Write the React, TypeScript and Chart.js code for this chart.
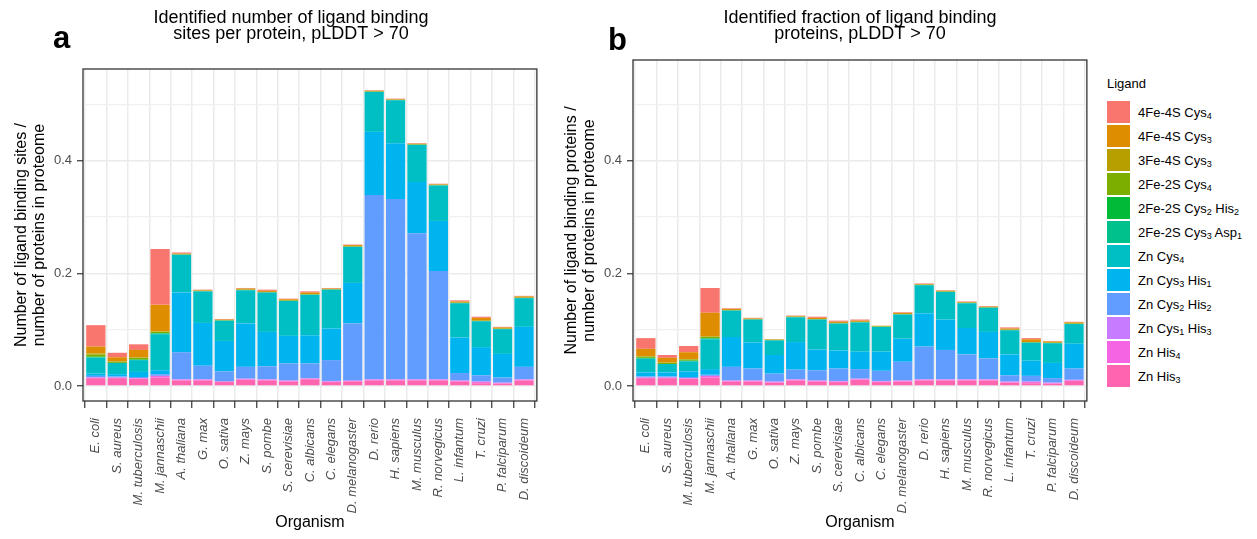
import React, { useEffect, useRef } from "react";
import { Chart, registerables } from "chart.js";

Chart.register(...registerables);

const FONT = '"Liberation Sans", Arial, Helvetica, sans-serif';

const organisms = [
  "E. coli", "S. aureus", "M. tuberculosis", "M. jannaschii", "A. thaliana", "G. max",
  "O. sativa", "Z. mays", "S. pombe", "S. cerevisiae", "C. albicans", "C. elegans",
  "D. melanogaster", "D. rerio", "H. sapiens", "M. musculus", "R. norvegicus",
  "L. infantum", "T. cruzi", "P. falciparum", "D. discoideum",
];

// Legend order (top to bottom); "_n" marks a subscript
const ligandLabels = [
  "4Fe-4S Cys_4", "4Fe-4S Cys_3", "3Fe-4S Cys_3", "2Fe-2S Cys_4", "2Fe-2S Cys_2 His_2",
  "2Fe-2S Cys_3 Asp_1", "Zn Cys_4", "Zn Cys_3 His_1", "Zn Cys_2 His_2", "Zn Cys_1 His_3",
  "Zn His_4", "Zn His_3",
];
const ligandColors = [
  "#F8766D", "#DE8C00", "#B79F00", "#7CAE00", "#00BA38", "#00C08B",
  "#00BFC4", "#00B4F0", "#619CFF", "#C77CFF", "#F564E3", "#FF64B0",
];

// Panel a: ligand binding sites per protein
const sitesFe4S4Cys4 = [0.038, 0.008, 0.010, 0.099, 0.002, 0.001, 0.001, 0.001, 0.002, 0.001, 0.002, 0.001, 0.001, 0.001, 0.001, 0.001, 0.001, 0.002, 0.002, 0.001, 0.001];
const sitesFe4S4Cys3 = [0.012, 0.007, 0.013, 0.047, 0.001, 0.001, 0.001, 0.002, 0.002, 0.002, 0.003, 0.001, 0.002, 0.001, 0.001, 0.001, 0.001, 0.002, 0.005, 0.002, 0.002];
const sitesFe3S4Cys3 = [0.002, 0.001, 0.001, 0.001, 0, 0, 0, 0, 0, 0, 0, 0, 0, 0, 0, 0, 0, 0, 0, 0, 0];
const sitesFe2S2Cys4 = [0.004, 0.002, 0.003, 0.002, 0.001, 0.001, 0.001, 0.001, 0.001, 0.001, 0.001, 0.001, 0.001, 0.001, 0.001, 0.001, 0.001, 0.001, 0.001, 0.001, 0.001];
const sitesFe2S2Cys2His2 = [0.001, 0, 0.001, 0.001, 0, 0, 0, 0, 0, 0, 0, 0, 0, 0, 0, 0, 0, 0, 0, 0, 0];
const sitesFe2S2Cys3Asp1 = [0.001, 0, 0, 0.001, 0, 0, 0, 0, 0, 0, 0, 0, 0, 0, 0, 0, 0, 0, 0, 0, 0];
const sitesZnCys4 = [0.028, 0.020, 0.021, 0.064, 0.067, 0.056, 0.036, 0.059, 0.070, 0.062, 0.072, 0.069, 0.064, 0.071, 0.076, 0.066, 0.063, 0.061, 0.046, 0.044, 0.051];
const sitesZnCys3His1 = [0.004, 0.004, 0.009, 0.007, 0.106, 0.076, 0.054, 0.077, 0.061, 0.049, 0.050, 0.056, 0.072, 0.112, 0.099, 0.091, 0.089, 0.063, 0.050, 0.042, 0.071];
const sitesZnCys2His2 = [0.003, 0.002, 0.002, 0.003, 0.048, 0.024, 0.018, 0.021, 0.023, 0.030, 0.026, 0.037, 0.101, 0.327, 0.320, 0.259, 0.192, 0.013, 0.011, 0.009, 0.022];
const sitesZnCys1His3 = [0, 0, 0, 0, 0.001, 0.001, 0, 0.001, 0.001, 0.001, 0.001, 0.001, 0.001, 0.001, 0.001, 0.001, 0.001, 0.001, 0.001, 0.001, 0.001];
const sitesZnHis4 = [0.001, 0.001, 0.001, 0.003, 0.001, 0.001, 0.001, 0.001, 0.001, 0.001, 0.001, 0.001, 0.001, 0.001, 0.001, 0.001, 0.001, 0.001, 0.002, 0.001, 0.001];
const sitesZnHis3 = [0.014, 0.014, 0.013, 0.015, 0.010, 0.010, 0.007, 0.011, 0.010, 0.008, 0.012, 0.007, 0.008, 0.010, 0.010, 0.010, 0.010, 0.008, 0.005, 0.004, 0.010];

// Panel b: fraction of ligand binding proteins
const protFe4S4Cys4 = [0.019, 0.005, 0.011, 0.044, 0.001, 0.001, 0, 0.001, 0.002, 0.002, 0.002, 0, 0.001, 0.001, 0.001, 0.001, 0.001, 0.002, 0.002, 0.001, 0.001];
const protFe4S4Cys3 = [0.013, 0.008, 0.012, 0.042, 0.002, 0.001, 0.001, 0.001, 0.002, 0.002, 0.002, 0.001, 0.002, 0.001, 0.001, 0.001, 0.001, 0.002, 0.005, 0.002, 0.002];
const protFe3S4Cys3 = [0.001, 0.001, 0.001, 0.001, 0, 0, 0, 0, 0, 0, 0, 0, 0, 0, 0, 0, 0, 0, 0, 0, 0];
const protFe2S2Cys4 = [0.002, 0.002, 0.002, 0.002, 0.001, 0.001, 0.001, 0.001, 0.001, 0.001, 0.001, 0.001, 0.001, 0.001, 0.001, 0.001, 0.001, 0.001, 0.001, 0.001, 0.001];
const protFe2S2Cys2His2 = [0.001, 0, 0.001, 0.001, 0, 0, 0, 0, 0, 0, 0, 0, 0, 0, 0, 0, 0, 0, 0, 0, 0];
const protFe2S2Cys3Asp1 = [0.001, 0, 0, 0.001, 0, 0, 0, 0, 0, 0, 0, 0, 0, 0, 0, 0, 0, 0, 0, 0, 0];
const protZnCys4 = [0.024, 0.015, 0.018, 0.053, 0.047, 0.041, 0.026, 0.044, 0.053, 0.048, 0.052, 0.044, 0.043, 0.050, 0.049, 0.044, 0.043, 0.043, 0.032, 0.035, 0.035];
const protZnCys3His1 = [0.007, 0.007, 0.010, 0.010, 0.053, 0.046, 0.033, 0.049, 0.037, 0.032, 0.031, 0.034, 0.041, 0.059, 0.054, 0.047, 0.047, 0.037, 0.027, 0.027, 0.044];
const protZnCys2His2 = [0.002, 0.002, 0.002, 0.002, 0.024, 0.021, 0.014, 0.017, 0.018, 0.022, 0.017, 0.018, 0.033, 0.058, 0.052, 0.044, 0.037, 0.011, 0.010, 0.008, 0.020];
const protZnCys1His3 = [0, 0, 0, 0, 0.001, 0.001, 0.001, 0.001, 0.001, 0.001, 0.001, 0.001, 0.001, 0.001, 0.001, 0.001, 0.001, 0.001, 0.001, 0.001, 0.001];
const protZnHis4 = [0.001, 0.001, 0.001, 0.003, 0.001, 0.001, 0.001, 0.001, 0.001, 0.001, 0.001, 0.001, 0.001, 0.001, 0.001, 0.001, 0.001, 0.001, 0.002, 0.001, 0.001];
const protZnHis3 = [0.014, 0.014, 0.013, 0.015, 0.008, 0.008, 0.006, 0.010, 0.008, 0.007, 0.011, 0.007, 0.008, 0.010, 0.010, 0.010, 0.010, 0.006, 0.005, 0.004, 0.009];

// in legend order (top of the stack first)
const sitesSeries = [
  sitesFe4S4Cys4, sitesFe4S4Cys3, sitesFe3S4Cys3, sitesFe2S2Cys4, sitesFe2S2Cys2His2, sitesFe2S2Cys3Asp1,
  sitesZnCys4, sitesZnCys3His1, sitesZnCys2His2, sitesZnCys1His3, sitesZnHis4, sitesZnHis3,
];
const protSeries = [
  protFe4S4Cys4, protFe4S4Cys3, protFe3S4Cys3, protFe2S2Cys4, protFe2S2Cys2His2, protFe2S2Cys3Asp1,
  protZnCys4, protZnCys3His1, protZnCys2His2, protZnCys1His3, protZnHis4, protZnHis3,
];

const yTickValues = [0, 0.1, 0.2, 0.3, 0.4, 0.5];
const yMajorTicks = [0, 0.2, 0.4];

const isMajor = (v: number) => yMajorTicks.some((m) => Math.abs(m - v) < 1e-6);

interface PanelProps {
  left: number;
  letter: string;
  titleLines: string[];
  titleX: number;
  yTitle: string[];
  series: number[][];
  plotTop: number;
  yMax: number;
  letterX: number;
  letterY: number;
}

function Panel({ left, letter, titleLines, titleX, yTitle, series, plotTop, yMax, letterX, letterY }: PanelProps) {
  const ref = useRef<HTMLCanvasElement>(null);
  useEffect(() => {
    if (!ref.current) return;
    const datasets = series
      .map((vals, k) => ({
        label: ligandLabels[k].replace(/_/g, ""),
        data: vals.map((v, i) => ({ x: i, y: v })),
        backgroundColor: ligandColors[k],
        borderWidth: 0,
        barPercentage: 0.9,
        categoryPercentage: 1,
      }))
      .reverse(); // bottom of stack first

    const decor = {
      id: "decor",
      afterDraw(chart: any) {
        const { ctx, chartArea } = chart;
        ctx.save();
        ctx.strokeStyle = "#333333";
        ctx.lineWidth = 1.3;
        ctx.strokeRect(chartArea.left, chartArea.top, chartArea.right - chartArea.left, chartArea.bottom - chartArea.top);
        ctx.fillStyle = "#000";
        ctx.textAlign = "center";
        ctx.textBaseline = "alphabetic";
        ctx.font = `18px ${FONT}`;
        ctx.fillText(titleLines[0], titleX, 23);
        ctx.fillText(titleLines[1], titleX, 39);
        ctx.textAlign = "left";
        ctx.font = `bold 31px ${FONT}`;
        ctx.fillText(letter, letterX, letterY);
        ctx.restore();
      },
    };

    const chart = new Chart(ref.current, {
      type: "bar",
      data: { datasets },
      plugins: [decor],
      options: {
        responsive: false,
        animation: false,
        layout: { padding: { top: plotTop, right: 13, left: 0, bottom: 0 } },
        plugins: {
          legend: { display: false },
          tooltip: { enabled: false },
          title: { display: false },
        },
        scales: {
          x: {
            type: "linear",
            min: -0.6,
            max: organisms.length - 0.4,
            stacked: true,
            offset: false,
            afterBuildTicks: (s: any) => {
              s.ticks = organisms.map((_, i) => ({ value: i }));
            },
            afterFit: (s: any) => {
              s.height = 138;
            },
            ticks: {
              autoSkip: false,
              maxRotation: 90,
              minRotation: 90,
              padding: 10,
              color: "#4D4D4D",
              font: { family: FONT, size: 13, style: "italic" },
              callback: (v: any) => organisms[Math.round(Number(v))] ?? "",
            },
            grid: {
              color: "#EBEBEB",
              lineWidth: 1.5,
              tickColor: "#333333",
              tickLength: 7,
              tickWidth: 1.2,
            },
            border: { display: false },
            title: {
              display: true,
              text: "Organism",
              color: "#000",
              font: { family: FONT, size: 16 },
              padding: { top: 0, bottom: 7 },
            },
          },
          y: {
            type: "linear",
            min: -0.0266,
            max: yMax,
            stacked: true,
            afterBuildTicks: (s: any) => {
              s.ticks = yTickValues.map((v) => ({ value: v }));
            },
            afterFit: (s: any) => {
              s.width = 83;
            },
            ticks: {
              color: "#4D4D4D",
              padding: 5,
              font: { family: FONT, size: 13 },
              callback: (v: any) => (isMajor(Number(v)) ? Number(v).toFixed(1) : ""),
            },
            grid: {
              color: (c: any) => (c.tick && isMajor(c.tick.value) ? "#EBEBEB" : "#F0F0F0"),
              lineWidth: (c: any) => (c.tick && isMajor(c.tick.value) ? 1.5 : 1.2),
              tickColor: (c: any) => (c.tick && isMajor(c.tick.value) ? "#333333" : "rgba(0,0,0,0)"),
              tickLength: 6,
              tickWidth: 1.2,
            },
            border: { display: false },
            title: {
              display: true,
              text: yTitle,
              color: "#000",
              font: { family: FONT, size: 16, lineHeight: 1.1 },
              padding: { top: 13, bottom: 0 },
            },
          },
        },
      } as any,
    });
    return () => chart.destroy();
  }, []);
  return (
    <canvas
      ref={ref}
      width={550}
      height={539}
      style={{ position: "absolute", left, top: 0, width: 550, height: 539 }}
    />
  );
}

function LegendLabel({ text }: { text: string }) {
  const parts = text.split(/_(\d)/);
  return (
    <span style={{ fontSize: 13, whiteSpace: "nowrap" }}>
      {parts.map((p, i) =>
        i % 2 === 1 ? (
          <sub key={i} style={{ fontSize: 9, verticalAlign: "-2px", lineHeight: 0 }}>
            {p}
          </sub>
        ) : (
          <span key={i}>{p}</span>
        )
      )}
    </span>
  );
}

export default function App() {
  return (
    <div
      style={{
        position: "absolute",
        left: 0,
        top: 0,
        width: 1257,
        height: 539,
        background: "#fff",
        overflow: "hidden",
        fontFamily: FONT,
      }}
    >
      <Panel
        left={0}
        letter="a"
        titleLines={["Identified number of ligand binding", "sites per protein, pLDDT > 70"]}
        titleX={291}
        yTitle={["Number of ligand binding sites /", "number of proteins in proteome"]}
        series={sitesSeries}
        plotTop={69}
        yMax={0.5626}
        letterX={53}
        letterY={48}
      />
      <Panel
        left={550}
        letter="b"
        titleLines={["Identified fraction of ligand binding", "proteins, pLDDT > 70"]}
        titleX={310}
        yTitle={["Number of ligand binding proteins /", "number of proteins in proteome"]}
        series={protSeries}
        plotTop={60}
        yMax={0.5786}
        letterX={58}
        letterY={50}
      />
      <div style={{ position: "absolute", left: 1107, top: 76, color: "#000" }}>
        <div style={{ fontSize: 13, height: 24, lineHeight: "16px" }}>Ligand</div>
        {ligandLabels.map((lab, k) => (
          <div key={lab} style={{ display: "flex", alignItems: "center", height: 24 }}>
            <div
              style={{
                width: 23,
                height: 22,
                background: ligandColors[k],
                marginRight: 8,
                flex: "0 0 auto",
              }}
            />
            <LegendLabel text={lab} />
          </div>
        ))}
      </div>
    </div>
  );
}
